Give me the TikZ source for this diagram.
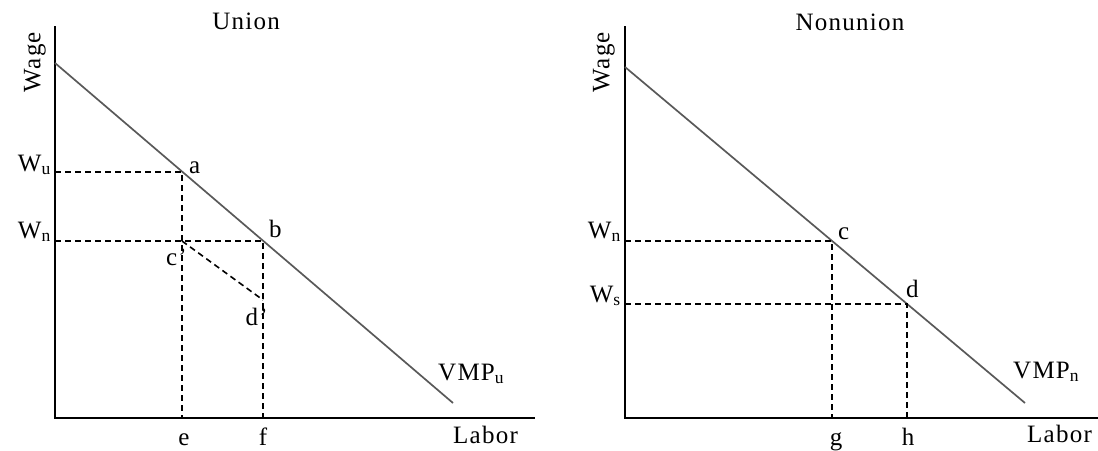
\documentclass[tikz,border=0pt]{standalone}
\usepackage{fontspec}
\setmainfont{Liberation Serif}[LetterSpace=5]
\begin{document}
\begin{tikzpicture}[x=1pt,y=-1pt,
  axis/.style={line width=2.2pt},
  curve/.style={line width=1.7pt,draw=black!65},
  guide/.style={line width=1.6pt,dash pattern=on 6pt off 4pt},
  every node/.style={font=\fontsize{25}{29}\selectfont,inner sep=0pt}]
  \useasboundingbox (0,0) rectangle (1098,450);
  % union panel
  \coordinate (uo) at (55,418);
  \coordinate (utop) at (55,26);
  \coordinate (uend) at (535,418);
  \coordinate (us) at (55,63);
  \coordinate (ue) at (453,403);
  \coordinate (a) at (182,172);
  \coordinate (b) at (263,241);
  \coordinate (c1) at (182,241);
  \coordinate (d1) at (263,300);
  \draw[axis] (utop) -- (uo) -- (uend);
  \draw[curve] (us) -- (ue);
  \draw[guide] (a -| uo) -- (a) -- (a |- uo);
  \draw[guide] (b -| uo) -- (b) -- (b |- uo);
  \draw[guide] (c1) -- (d1);
  \node (union) [anchor=base] at (246,29) {Union};
  \node (wage1) [rotate=90] at (35,62) {Wage};
  \node (wu) [anchor=base east] at (51,171) {W\textsubscript{u}};
  \node (wn1) [anchor=base east] at (51,238) {W\textsubscript{n}};
  \node (la) [anchor=base west] at (189,173) {a};
  \node (lb) [anchor=base west] at (269,237) {b};
  \node (lc1) [anchor=base east] at (187,265) {c'};
  \node (ld1) [anchor=base east] at (268,325) {d'};
  \node (le) [anchor=base] at (184,445) {e};
  \node (lf) [anchor=base] at (263,445) {f};
  \node (vmpu) [anchor=base west] at (438,380) {VMP\textsubscript{u}};
  \node (labor1) [anchor=base west] at (453,443) {Labor};
  % nonunion panel
  \coordinate (no) at (625,418);
  \coordinate (ntop) at (625,26);
  \coordinate (nend) at (1098,418);
  \coordinate (ns) at (625,67);
  \coordinate (ne) at (1025,403);
  \coordinate (c) at (832,241);
  \coordinate (d) at (907,304);
  \draw[axis] (ntop) -- (no) -- (nend);
  \draw[curve] (ns) -- (ne);
  \draw[guide] (c -| no) -- (c) -- (c |- no);
  \draw[guide] (d -| no) -- (d) -- (d |- no);
  \node (nonunion) [anchor=base] at (850,30) {Nonunion};
  \node (wage2) [rotate=90] at (604,62) {Wage};
  \node (wn2) [anchor=base east] at (621,238) {W\textsubscript{n}};
  \node (ws) [anchor=base east] at (621,302) {W\textsubscript{s}};
  \node (lc) [anchor=base west] at (838,239) {c};
  \node (ld) [anchor=base west] at (906,297) {d};
  \node (lg) [anchor=base] at (836,445) {g};
  \node (lh) [anchor=base] at (908,445) {h};
  \node (vmpn) [anchor=base west] at (1013,378) {VMP\textsubscript{n}};
  \node (labor2) [anchor=base west] at (1027,442) {Labor};
\end{tikzpicture}
\end{document}
